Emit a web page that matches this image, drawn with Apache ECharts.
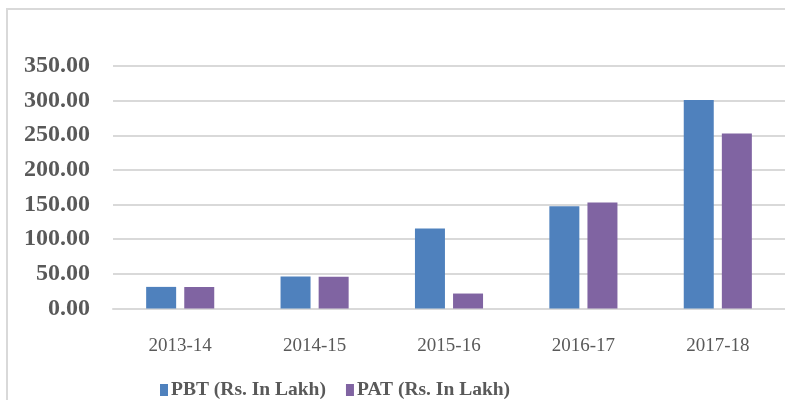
<!DOCTYPE html>
<html>
<head>
<meta charset="utf-8">
<script src="https://cdn.jsdelivr.net/npm/echarts@6/dist/echarts.min.js"></script>
<style>
  html, body { margin: 0; padding: 0; background: #fff; }
  #chart { width: 785px; height: 400px; }
</style>
</head>
<body>
<div id="chart"></div>
<script>
// data
const categories = ["2013-14", "2014-15", "2015-16", "2016-17", "2017-18"];
const pbtValues = [31.2, 46.2, 115.4, 147.6, 300.9];
const patValues = [31.0, 46.0, 21.6, 152.9, 252.4];
const seriesNames = ["PBT (Rs. In Lakh)", "PAT (Rs. In Lakh)"];

const myChart = echarts.init(document.getElementById("chart"));
const serif = "'Liberation Serif', 'Times New Roman', serif";

const option = {
  animation: false,
  color: ["#4F81BD", "#8064A2"],
  textStyle: { fontFamily: serif },
  graphic: [
    {
      // chart frame, cut off at right and bottom
      type: "rect",
      shape: { x: 7, y: 9, width: 1000, height: 1000 },
      style: { fill: "none", stroke: "#D9D9D9", lineWidth: 2 },
    },
  ],
  grid: {
    left: 113,
    top: 66,
    width: 680,
    height: 242.5,
  },
  legend: {
    left: 155,
    top: 375,
    icon: "rect",
    itemWidth: 8,
    itemHeight: 12,
    itemGap: 20,
    textStyle: {
      fontFamily: serif,
      fontWeight: "bold",
      fontSize: 19.5,
      color: "#595959",
      padding: [0, 0, 0, -2],
    },
    data: seriesNames,
  },
  xAxis: {
    type: "category",
    data: categories,
    axisLine: { lineStyle: { color: "#D9D9D9", width: 2 } },
    axisTick: { show: false },
    axisLabel: {
      margin: 28,
      fontFamily: serif,
      fontSize: 19,
      color: "#595959",
    },
  },
  yAxis: {
    type: "value",
    min: 0,
    max: 350,
    interval: 50,
    axisLine: { show: false },
    axisTick: { show: false },
    splitLine: { lineStyle: { color: "#D9D9D9", width: 2 } },
    axisLabel: {
      margin: 23,
      fontFamily: serif,
      fontWeight: "bold",
      fontSize: 24,
      color: "#595959",
      formatter: (v) => v.toFixed(2),
    },
  },
  series: [
    {
      name: seriesNames[0],
      type: "bar",
      data: pbtValues,
      barWidth: 30,
      barGap: "27%",
    },
    {
      name: seriesNames[1],
      type: "bar",
      data: patValues,
      barWidth: 30,
      barGap: "27%",
    },
  ],
};
myChart.setOption(option);
</script>
</body>
</html>
